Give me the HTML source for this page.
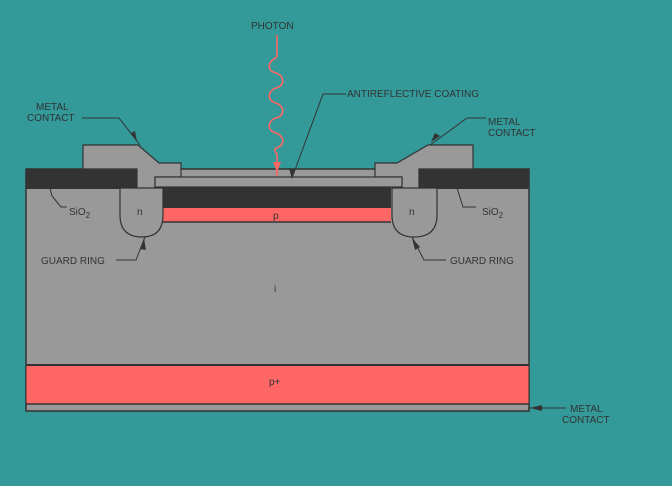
<!DOCTYPE html>
<html><head><style>body{margin:0;background:#339999}svg{display:block}text{font-family:"Liberation Sans",sans-serif;font-size:10px;fill:#333}</style></head>
<body>
<svg width="672" height="486" viewBox="0 0 672 486" xmlns="http://www.w3.org/2000/svg">
<rect width="672" height="486" fill="#339999"/>
<rect x="26" y="169" width="503" height="242" fill="#999" stroke="#333" stroke-width="1.5"/>
<rect x="26.5" y="366" width="502" height="38" fill="#f66"/>
<line x1="26" y1="365" x2="529" y2="365" stroke="#333" stroke-width="2"/>
<line x1="26" y1="404" x2="529" y2="404" stroke="#333" stroke-width="1.5"/>
<rect x="26" y="169" width="111" height="20" fill="#333"/>
<rect x="419" y="169" width="110" height="20" fill="#333"/>
<polygon points="83,145 138,145 159,163 181,163 181,177 155,177 155,189 137,189 137,169 83,169" fill="#999" stroke="#333" stroke-width="1.2"/>
<polygon points="428,145 473,145 473,169 419,169 419,189 402,189 402,177 375,177 375,163 397,163" fill="#999" stroke="#333" stroke-width="1.2"/>
<rect x="155" y="177" width="247" height="10" fill="#999" stroke="#333" stroke-width="1.2"/>
<rect x="163" y="187" width="228" height="21" fill="#333"/>
<rect x="163" y="208" width="228" height="14" fill="#f66"/>
<line x1="163" y1="222" x2="391" y2="222" stroke="#333" stroke-width="1.5"/>
<path d="M120,188 V215 Q120,237 142,237 Q163,237 163,215 V188 Z" fill="#999" stroke="#333" stroke-width="1.2"/>
<path d="M392,188 V215 Q392,237 414,237 Q437,237 437,215 V188 Z" fill="#999" stroke="#333" stroke-width="1.2"/>
<path d="M277,35 V52 Q277,56 276,58 c-9,4 -9,13 0,15 c9,3 9,13 0,15 c-9,3 -9,13 0,15 c9,3 9,13 0,15 c-9,3 -9,13 0,15 c9,3 9,13 0,15 c-2,2 -1,4 1,6 V176" fill="none" stroke="#f66" stroke-width="1.6"/>
<polygon points="273,162 281,162 277,172" fill="#f66"/>
<g stroke="#333" stroke-width="1" fill="none">
<polyline points="82,118 119,118 140,145"/>
<polyline points="346,94 323,94 292,178"/>
<polyline points="486,118 467,118 430,145"/>
<polyline points="50,188 52,196 61,207 67,207"/>
<polyline points="457,188 463,207 476,207"/>
<polyline points="116,260 136,260 145,237"/>
<polyline points="446,260 424,260 412,237"/>
<line x1="529" y1="408" x2="566" y2="408"/>
</g>
<g fill="#333">
<polygon points="137,142 131,133 135,131"/>
<polygon points="292,179 289,168 295,170"/>
<polygon points="431,142 435,133 440,136"/>
<polygon points="144,238 140,249 146,250"/>
<polygon points="412,238 415,250 420,247"/>
<polygon points="530,408 542,405 542,411"/>
</g>
<text x="251" y="29">PHOTON</text>
<text x="347" y="97">ANTIREFLECTIVE COATING</text>
<text x="36" y="110">METAL</text>
<text x="27" y="121">CONTACT</text>
<text x="488" y="125">METAL</text>
<text x="488" y="136">CONTACT</text>
<text x="69" y="215">SiO<tspan font-size="8" dy="3">2</tspan></text>
<text x="482" y="215">SiO<tspan font-size="8" dy="3">2</tspan></text>
<text x="137" y="215">n</text>
<text x="409" y="215">n</text>
<text x="273" y="219">p</text>
<text x="41" y="264">GUARD RING</text>
<text x="450" y="264">GUARD RING</text>
<text x="274" y="292">i</text>
<text x="269" y="385">p+</text>
<text x="570" y="412">METAL</text>
<text x="562" y="423">CONTACT</text>
</svg>
</body></html>
